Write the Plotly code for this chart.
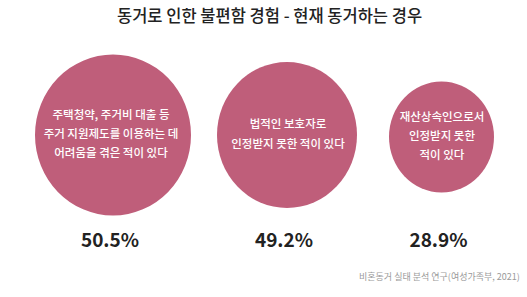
import plotly.graph_objects as go

# --- data ---
categories = [
    "주택청약, 주거비 대출 등<br>주거 지원제도를 이용하는 데<br>어려움을 겪은 적이 있다",
    "법적인 보호자로<br>인정받지 못한 적이 있다",
    "재산상속인으로서<br>인정받지 못한<br>적이 있다",
]
values = [50.5, 49.2, 28.9]
title_text = "동거로 인한 불편함 경험 - 현재 동거하는 경우"
source_text = "비혼동거 실태 분석 연구(여성가족부, 2021)"

# --- layout constants (pixel-like axis coordinates) ---
W, H = 527, 297
bubble_cx = [113, 287, 441.5]
bubble_cy = [135, 135, 137]
bubble_rx = [78, 70, 52.5]
bubble_ry = [80.5, 73, 55.5]
label_dx = [-2, 1, 0.5]
line_gap = 19.3
pct_y = 242
bubble_color = "rgb(191,94,122)"
font_family = "Noto Sans CJK KR"

fig = go.Figure()

# bubbles
for cx, cy, rx, ry in zip(bubble_cx, bubble_cy, bubble_rx, bubble_ry):
    fig.add_shape(
        type="circle", xref="x", yref="y",
        x0=cx - rx, x1=cx + rx, y0=cy - ry, y1=cy + ry,
        fillcolor=bubble_color, line=dict(width=0), layer="below",
    )

# label lines inside the bubbles
lx, ly, lt = [], [], []
for cat, cx, cy, dx in zip(categories, bubble_cx, bubble_cy, label_dx):
    lines = cat.split("<br>")
    n = len(lines)
    for i, line in enumerate(lines):
        lx.append(cx + dx)
        ly.append(cy + (i - (n - 1) / 2) * line_gap)
        lt.append(line)
fig.add_trace(go.Scatter(
    x=lx, y=ly, text=lt, mode="text", textposition="middle center",
    textfont=dict(family=font_family, size=11.5, color="white", weight=500),
    hoverinfo="skip", showlegend=False,
))

# percentage values under the bubbles
fig.add_trace(go.Scatter(
    x=[cx - 3 for cx in bubble_cx], y=[pct_y] * len(values),
    text=[f"{v:.1f}%" for v in values], mode="text", textposition="middle center",
    textfont=dict(family=font_family, size=19, color="#222222", weight="bold"),
    hoverinfo="skip", showlegend=False,
))

fig.add_annotation(
    x=269, y=15, xref="x", yref="y", text=title_text, showarrow=False,
    xanchor="center", yanchor="middle",
    font=dict(family=font_family, size=16.5, color="#222222", weight=500),
)
fig.add_annotation(
    x=522, y=276, xref="x", yref="y", text=source_text, showarrow=False,
    xanchor="right", yanchor="middle",
    font=dict(family=font_family, size=9, color="#9a9a9a"),
)

fig.update_layout(
    width=W, height=H,
    margin=dict(l=0, r=0, t=0, b=0),
    paper_bgcolor="white", plot_bgcolor="white",
    xaxis=dict(range=[0, W], visible=False, fixedrange=True),
    yaxis=dict(range=[H, 0], visible=False, fixedrange=True),
)

fig.write_html("out.html", config={"displayModeBar": False})
